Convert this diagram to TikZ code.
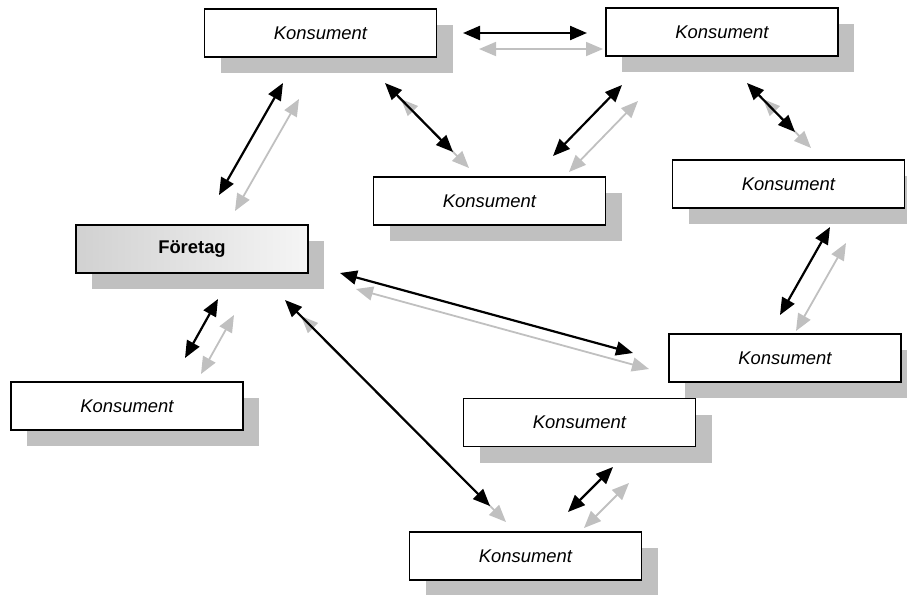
\documentclass[tikz,border=0pt]{standalone}
\usepackage{fontspec}
\setmainfont{Liberation Sans}
\usepackage[HTML]{xcolor}
\usetikzlibrary{positioning, arrows.meta, shadows}
\definecolor{shadowgray}{HTML}{C0C0C0}

\begin{document}
\begin{tikzpicture}[x=0.5pt, y=-0.5pt,
  box/.style={draw, line width=0.8pt, fill=white, minimum width=116pt, minimum height=24pt,
    inner sep=0pt, font=\fontsize{9.2}{11}\selectfont\itshape,
    drop shadow={shadow xshift=8pt, shadow yshift=-8pt, fill=shadowgray, opacity=1}},
  firm/.style={box, left color=black!18, right color=black!4, font=\fontsize{9.2}{11}\selectfont\bfseries},
  link/.style={{Triangle[length=8.5pt,width=7pt]}-{Triangle[length=8.5pt,width=7pt]}, line width=1.1pt},
  shadowlink/.style={link, color=shadowgray, line width=0.9pt, transform canvas={shift={(8pt,-8pt)}}}]
\useasboundingbox (0,0) rectangle (907,595);

\node[box] (k1) at (320.5,33) {Konsument};
\node[box] (k2) at (722,32) {Konsument};
\node[box] (k3) at (489.5,201) {Konsument};
\node[box] (k4) at (788.5,184) {Konsument};
\node[firm] (foretag) at (192,249) {Företag};
\node[box] (k5) at (785,358) {Konsument};
\node[box] (k6) at (127,406) {Konsument};
\node[box] (k7) at (579.5,422.5) {Konsument};
\node[box] (k8) at (525.5,556) {Konsument};

% arrow ends
\coordinate (k1k2a) at (463,33);    \coordinate (k1k2b) at (587,33);
\coordinate (k1fa) at (283,83);     \coordinate (k1fb) at (219,195);
\coordinate (k1k3a) at (385,83);    \coordinate (k1k3b) at (453,152);
\coordinate (k3k2a) at (553,156);   \coordinate (k3k2b) at (622,85);
\coordinate (k2k4a) at (747,83);    \coordinate (k2k4b) at (795,132);
\coordinate (k4k5a) at (830,227);   \coordinate (k4k5b) at (780,315);
\coordinate (fk5a) at (340,273);    \coordinate (fk5b) at (633,353);
\coordinate (fk6a) at (218,299);    \coordinate (fk6b) at (185,358);
\coordinate (fk8a) at (285,300);    \coordinate (fk8b) at (490,506);
\coordinate (k7k8a) at (613,467);   \coordinate (k7k8b) at (568,512);

\foreach \a/\b in {k1k2a/k1k2b, k1fa/k1fb, k1k3a/k1k3b, k3k2a/k3k2b, k2k4a/k2k4b,
    k4k5a/k4k5b, fk5a/fk5b, fk6a/fk6b, fk8a/fk8b, k7k8a/k7k8b} {
  \draw[shadowlink] (\a) -- (\b);
  \draw[link] (\a) -- (\b);
}
\end{tikzpicture}
\end{document}
